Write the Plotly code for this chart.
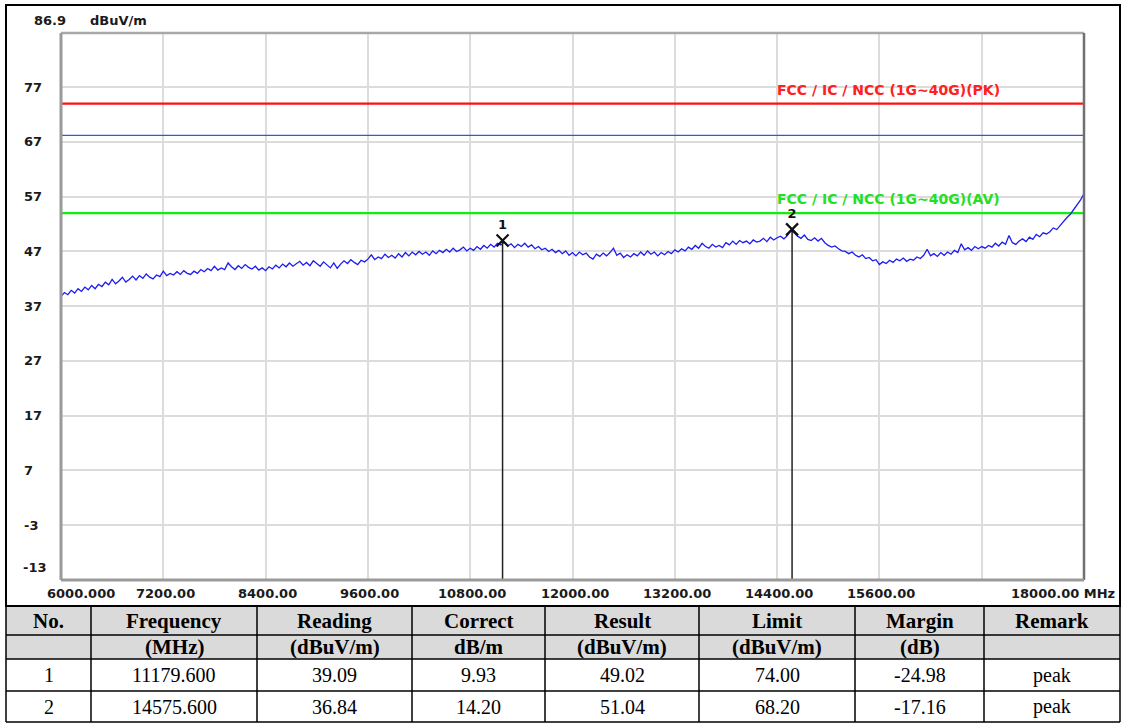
import plotly.graph_objects as go

# ---------------- data ----------------
freq_start = 6000.0
freq_step = 40.0
level = [
    38.8, 39.5, 39.1, 39.9, 39.4, 40.2, 39.7, 40.5, 40.0, 40.8,
    40.2, 41.0, 40.6, 41.4, 40.9, 41.9, 41.1, 41.6, 42.3, 41.4,
    41.9, 42.5, 41.8, 42.6, 42.1, 42.9, 42.3, 42.0, 42.7, 42.4,
    43.4, 42.6, 43.0, 42.7, 43.3, 42.8, 43.5, 43.0, 42.8, 43.4,
    43.0, 43.7, 43.3, 43.9, 43.5, 44.3, 43.6, 44.0, 43.7, 44.9,
    44.2, 43.7, 44.4, 43.9, 44.6, 44.1, 43.8, 44.3, 43.6, 44.0,
    43.5, 44.2, 43.8, 44.5, 44.0, 44.7, 44.2, 44.9, 44.3, 44.8,
    45.2, 44.5, 45.0, 44.4, 45.3, 44.8, 44.3, 45.1, 44.6, 44.0,
    44.9, 43.9, 44.7, 45.3, 44.8, 45.5, 45.0, 44.6, 45.4, 45.1,
    45.6, 46.4, 45.5, 46.0, 45.7, 46.5, 45.9, 46.3, 45.8, 46.6,
    46.0, 46.8, 46.2, 46.9, 46.4, 47.0, 46.5, 46.9, 46.3, 47.1,
    46.6, 47.2, 46.8, 47.4, 46.9, 47.6, 47.0, 47.3, 47.8, 47.1,
    47.6, 47.2, 47.9, 47.4, 48.1, 47.6, 48.3, 47.8, 48.5, 48.2,
    48.7, 48.0, 48.4, 47.7, 48.3, 47.9, 48.5, 47.8, 48.2, 47.5,
    47.9, 47.3, 47.6, 47.0, 47.4, 46.8, 47.2, 46.6, 47.1, 46.3,
    46.8, 46.2, 46.9, 46.4, 46.7, 46.0, 45.6, 46.5, 46.1, 46.7,
    46.2, 46.8, 47.6, 46.3, 46.7, 45.9, 46.4, 46.0, 46.6, 46.2,
    46.9, 46.3, 47.1, 46.5, 46.9, 46.2, 46.8, 46.4, 47.0, 46.6,
    47.3, 46.9, 47.5, 47.1, 47.8, 47.4, 48.1, 47.6, 48.5, 47.9,
    47.6, 48.3, 47.8, 48.1, 47.7, 48.6, 48.2, 48.9, 48.3, 49.0,
    48.6, 48.9, 48.4, 49.1, 48.7, 48.9, 49.4, 48.8, 49.6, 49.1,
    49.5, 49.8, 49.3, 49.9, 50.8, 50.4, 49.8, 49.4, 50.0, 49.2,
    49.0, 49.5, 48.9, 49.4, 48.6, 48.1, 47.8, 48.0, 47.5, 47.1,
    47.0, 46.6, 46.9, 46.3, 46.0, 46.4, 45.7, 45.9, 45.3, 45.5,
    44.6, 45.1, 44.8, 45.4, 45.0, 45.6, 45.3, 45.8, 45.2, 45.6,
    45.4, 46.0, 45.7, 46.3, 47.4, 46.2, 46.6, 46.1, 46.8, 46.3,
    46.9, 46.5, 47.2, 46.8, 48.4, 47.3, 47.7, 47.2, 47.9, 47.5,
    47.9, 47.6, 48.1, 47.8, 48.5, 48.0, 48.7, 48.3, 49.9, 48.6,
    48.3, 48.9, 49.3, 48.8, 49.6, 49.2, 50.1, 49.7, 50.4, 50.2,
    50.6, 51.3, 51.0, 51.8, 52.5, 53.2, 53.8, 54.6, 55.5, 56.4,
    57.6,
]

limit_pk = 74.0
limit_mid = 68.2
limit_av = 54.0
limit_pk_label = "FCC / IC / NCC (1G~40G)(PK)"
limit_av_label = "FCC / IC / NCC (1G~40G)(AV)"

marker_no = ["1", "2"]
marker_freq = [11179.6, 14575.6]
marker_result = [49.02, 51.04]

x_min, x_max = 6000.0, 18000.0
x_tick_vals = [6000, 7200, 8400, 9600, 10800, 12000, 13200, 14400, 15600, 18000]
x_tick_text = ["6000.000", "7200.00", "8400.00", "9600.00", "10800.00",
               "12000.00", "13200.00", "14400.00", "15600.00", "18000.00 MHz"]
y_top = 86.9
y_bottom = -13
y_tick_vals = [77, 67, 57, 47, 37, 27, 17, 7, -3]
y_unit = "dBuV/m"

table_header = ["No.", "Frequency", "Reading", "Correct", "Result", "Limit", "Margin", "Remark"]
table_units = ["", "(MHz)", "(dBuV/m)", "dB/m", "(dBuV/m)", "(dBuV/m)", "(dB)", ""]
col_no = ["1", "2"]
col_freq = ["11179.600", "14575.600"]
col_reading = ["39.09", "36.84"]
col_correct = ["9.93", "14.20"]
col_result = ["49.02", "51.04"]
col_limit = ["74.00", "68.20"]
col_margin = ["-24.98", "-17.16"]
col_remark = ["peak", "peak"]

# ---------------- layout geometry (pixels) ----------------
W, H = 1126, 724
PL, PR, PT, PB = 61, 1084, 33, 580


def px_x(px):
    return (px - PL) / (PR - PL)


def px_y(py):
    return (PB - py) / (PB - PT)


freqs = [freq_start + i * freq_step for i in range(len(level))]

fig = go.Figure()

# limit lines
fig.add_trace(go.Scatter(x=[x_min, x_max], y=[limit_mid, limit_mid], mode="lines",
                         line=dict(color="#4050d8", width=1.4), hoverinfo="skip"))
fig.add_trace(go.Scatter(x=[x_min, x_max], y=[limit_pk, limit_pk], mode="lines",
                         line=dict(color="#ff1010", width=2.2), hoverinfo="skip"))
fig.add_trace(go.Scatter(x=[x_min, x_max], y=[limit_av, limit_av], mode="lines",
                         line=dict(color="#10ee10", width=2.2), hoverinfo="skip"))

# spectrum trace
fig.add_trace(go.Scatter(x=freqs, y=level, mode="lines",
                         line=dict(color="#1c1cf0", width=1.3)))

# marker stems
for f, r in zip(marker_freq, marker_result):
    fig.add_trace(go.Scatter(x=[f, f], y=[r, y_bottom], mode="lines",
                             line=dict(color="#222222", width=1.5), hoverinfo="skip"))

# marker crosses with numbers
fig.add_trace(go.Scatter(
    x=marker_freq, y=marker_result, mode="markers+text", text=marker_no,
    textposition="top center",
    textfont=dict(family="DejaVu Sans", size=13, color="#111111", weight="bold"),
    marker=dict(symbol="x-thin", size=12, line=dict(color="#111111", width=2.2)),
))

axis_font = dict(family="DejaVu Sans", size=13, color="#1a1a1a", weight="bold")
annotations = []

# y labels
for v in y_tick_vals:
    annotations.append(dict(x=px_x(22), xref="paper", y=v, yref="y", text=str(v),
                            showarrow=False, xanchor="left", yanchor="middle",
                            font=axis_font))
annotations.append(dict(x=px_x(32), xref="paper", y=y_top, yref="y", yshift=13,
                        text=str(y_top), showarrow=False, xanchor="left",
                        yanchor="middle", font=axis_font))
annotations.append(dict(x=px_x(88), xref="paper", y=y_top, yref="y", yshift=13,
                        text=y_unit, showarrow=False, xanchor="left",
                        yanchor="middle", font=axis_font))
annotations.append(dict(x=px_x(21), xref="paper", y=y_bottom, yref="y", yshift=13,
                        text=str(y_bottom), showarrow=False, xanchor="left",
                        yanchor="middle", font=axis_font))

# x labels
for i, (v, t) in enumerate(zip(x_tick_vals, x_tick_text)):
    if i == 0:
        anchor, shift = "left", -16
    elif i == len(x_tick_vals) - 1:
        anchor, shift = "right", 33
    else:
        anchor, shift = "center", 2
    annotations.append(dict(x=v, xref="x", y=px_y(593), yref="paper", text=t,
                            showarrow=False, xanchor=anchor, xshift=shift,
                            yanchor="middle", font=axis_font))

# limit labels
lab_x = x_min + (775 - PL) / (PR - PL) * (x_max - x_min)
annotations.append(dict(x=lab_x, xref="x", y=limit_pk, yref="y", yshift=4,
                        text=limit_pk_label, showarrow=False, xanchor="left",
                        yanchor="bottom",
                        font=dict(family="DejaVu Sans", size=14, color="#ff2020",
                                  weight="bold")))
annotations.append(dict(x=lab_x, xref="x", y=limit_av, yref="y", yshift=4,
                        text=limit_av_label, showarrow=False, xanchor="left",
                        yanchor="bottom",
                        font=dict(family="DejaVu Sans", size=14, color="#22e022",
                                  weight="bold")))

shapes = []
# plot frame
shapes.append(dict(type="line", xref="paper", yref="paper", x0=0, x1=1, y0=1, y1=1,
                   line=dict(color="#a8a8a8", width=2.5)))
shapes.append(dict(type="line", xref="paper", yref="paper", x0=0, x1=0, y0=0, y1=1,
                   line=dict(color="#9a9a9a", width=3)))
shapes.append(dict(type="line", xref="paper", yref="paper", x0=1, x1=1, y0=0, y1=1,
                   line=dict(color="#707070", width=2.5)))
shapes.append(dict(type="line", xref="paper", yref="paper", x0=0, x1=1, y0=0, y1=0,
                   line=dict(color="#9a9a9a", width=3)))

# outer chart border
shapes.append(dict(type="rect", xref="paper", yref="paper",
                   x0=px_x(6), x1=px_x(1120), y0=px_y(606), y1=px_y(5),
                   line=dict(color="#000000", width=2)))

# table
col_edges = [6, 91, 257, 412, 545, 699, 855, 984, 1120]
row_edges = [606, 635, 659, 691, 722]
shapes.append(dict(type="rect", xref="paper", yref="paper", layer="below",
                   x0=px_x(col_edges[0]), x1=px_x(col_edges[-1]),
                   y0=px_y(row_edges[2]), y1=px_y(row_edges[0]),
                   fillcolor="#dadada", line=dict(width=0)))
for i, ry in enumerate(row_edges):
    shapes.append(dict(type="line", xref="paper", yref="paper",
                       x0=px_x(col_edges[0]), x1=px_x(col_edges[-1]),
                       y0=px_y(ry), y1=px_y(ry),
                       line=dict(color="#000000", width=2 if i == 0 else 1.5)))
for cx in col_edges:
    shapes.append(dict(type="line", xref="paper", yref="paper",
                       x0=px_x(cx), x1=px_x(cx),
                       y0=px_y(row_edges[-1]), y1=px_y(row_edges[0]),
                       line=dict(color="#000000", width=1.5)))

hdr_font = dict(family="Liberation Serif", size=21, color="#000000", weight="bold")
cell_font = dict(family="Liberation Serif", size=20, color="#000000")
rows = [(table_header, hdr_font), (table_units, hdr_font)]
data_cols = [col_no, col_freq, col_reading, col_correct, col_result, col_limit,
             col_margin, col_remark]
for r in range(len(col_no)):
    rows.append(([c[r] for c in data_cols], cell_font))

for ri, (cells, fnt) in enumerate(rows):
    cy = (row_edges[ri] + row_edges[ri + 1]) / 2
    for ci, txt in enumerate(cells):
        if not txt:
            continue
        cx = (col_edges[ci] + col_edges[ci + 1]) / 2
        annotations.append(dict(x=px_x(cx), xref="paper", y=px_y(cy), yref="paper",
                                text=txt, showarrow=False, xanchor="center",
                                yanchor="middle", font=fnt))

fig.update_layout(
    width=W, height=H,
    margin=dict(l=PL, r=W - PR, t=PT, b=H - PB, pad=0),
    paper_bgcolor="#ffffff", plot_bgcolor="#ffffff",
    showlegend=False,
    xaxis=dict(range=[x_min, x_max], tick0=x_min, dtick=1200, showticklabels=False,
               ticks="", showgrid=True, gridcolor="#dcdcdc", gridwidth=2,
               zeroline=False, showline=False, fixedrange=True),
    yaxis=dict(range=[y_bottom, y_top], tickvals=y_tick_vals, showticklabels=False,
               ticks="", showgrid=True, gridcolor="#dcdcdc", gridwidth=2,
               zeroline=False, showline=False, fixedrange=True),
    annotations=annotations,
    shapes=shapes,
)

fig.write_html("out.html", config={"displayModeBar": False},
               post_script="document.body.style.margin='0px';document.body.style.overflow='hidden';")
